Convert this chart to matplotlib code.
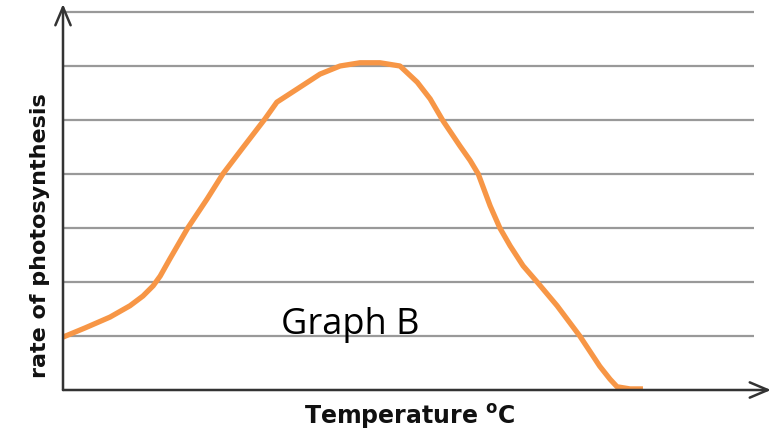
import matplotlib
matplotlib.use("Agg")
import matplotlib.pyplot as plt

# Data (arbitrary units)
temperature = [0.0, 0.41, 0.87, 1.24, 1.48, 1.67, 1.80, 1.98, 2.31, 2.67, 2.96,
               3.31, 3.74, 3.96, 4.33, 4.76, 5.13, 5.5, 5.87, 6.24, 6.56, 6.8,
               7.04, 7.35, 7.54, 7.69, 7.91, 8.09, 8.28, 8.52, 8.78, 9.15, 9.57,
               9.94, 10.13, 10.26, 10.5, 10.74]
rate = [0.98, 1.15, 1.35, 1.56, 1.74, 1.93, 2.11, 2.43, 3.0, 3.54, 4.0,
        4.46, 5.02, 5.33, 5.57, 5.85, 6.0, 6.06, 6.06, 6.0, 5.70, 5.39,
        4.98, 4.52, 4.25, 4.0, 3.41, 3.0, 2.67, 2.30, 2.0, 1.56, 1.0,
        0.44, 0.20, 0.06, 0.02, 0.02]
grid_levels = [1, 2, 3, 4, 5, 6, 7]

W, H = 775, 435
fig = plt.figure(figsize=(W / 100, H / 100), dpi=100)
fig.patch.set_facecolor("white")

unit = 54.0
x0_px, y0_px = 63, 391
xmax = (771 - x0_px) / unit
ymax = (y0_px - 5) / unit
ax = fig.add_axes([x0_px / W, (H - y0_px) / H, (771 - x0_px) / W, (y0_px - 5) / H])
ax.set_xlim(0, xmax)
ax.set_ylim(0, ymax)
ax.axis("off")

grid_end = (754 - x0_px) / unit
for g in grid_levels:
    ax.plot([0, grid_end], [g, g], color="#999999", lw=1.6, zorder=1,
            solid_capstyle="butt")

ax.plot(temperature, rate, color="#F79646", lw=3.8, zorder=3,
        solid_capstyle="butt", solid_joinstyle="round")

arrow_kw = dict(arrowstyle="->,head_length=1.3,head_width=0.55",
                lw=1.8, color="#333333", shrinkA=0, shrinkB=0)
ax.annotate("", xy=(xmax, 0), xytext=(0, 0), arrowprops=arrow_kw,
            annotation_clip=False, zorder=4)
ax.annotate("", xy=(0, ymax), xytext=(0, 0), arrowprops=arrow_kw,
            annotation_clip=False, zorder=4)

ax.text((350 - x0_px) / unit, (y0_px - 325) / unit, "Graph B",
        fontsize=26, family="Open Sans", ha="center", va="center", color="black",
        zorder=5)

fig.text(410 / W, 1 - 417 / H, r"Temperature $\mathbf{^o}$C",
         fontsize=17, fontweight="bold", ha="center", va="center", color="#111111")
fig.text(40 / W, 1 - 236 / H, "rate of photosynthesis", rotation=90,
         fontsize=16, fontweight="bold", ha="center", va="center", color="#111111")

fig.savefig("out.png", dpi=100, facecolor="white")
